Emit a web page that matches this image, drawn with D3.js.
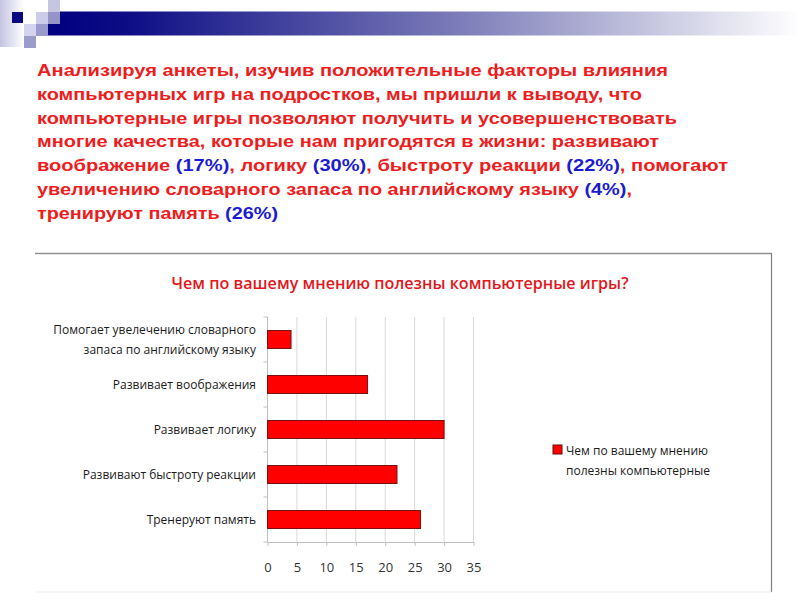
<!DOCTYPE html>
<html>
<head>
  <meta charset="UTF-8">
  <style>
    body { margin: 0; background: #fff; }
    svg { display: block; }
    .para { font: bold 16.5px "Liberation Sans", Arial, sans-serif; }
    .chart text { font-family: "Open Sans", sans-serif; }
    .grid line { stroke: #d9d9d9; stroke-width: 1px; }
    .axis line, .axis path { stroke: #bfbfbf; stroke-width: 1px; }
    .bar { fill: #ff0000; stroke: #7a1010; stroke-width: 1px; }
  </style>
</head>
<body>
  <svg width="800" height="600"></svg>
  <script src="https://d3js.org/d3.v7.min.js"></script>
  <script>
    // данные диаграммы
    const categories = [
      'Помогает увелечению словарного запаса по английскому языку',
      'Развивает воображения',
      'Развивает логику',
      'Развивают быстроту реакции',
      'Тренеруют память'
    ];
    const categoryLines = [
      ['Помогает увелечению словарного', 'запаса по английскому языку'],
      ['Развивает воображения'],
      ['Развивает логику'],
      ['Развивают быстроту реакции'],
      ['Тренеруют память']
    ];
    const values = [4, 17, 30, 22, 26];
    const xTicks = [0, 5, 10, 15, 20, 25, 30, 35];
    const chartTitle = 'Чем по вашему мнению полезны компьютерные игры?';
    const legendLines = ['Чем по вашему мнению', 'полезны компьютерные'];

    const red = '#ee1c1c', blue = '#1b1bd0';
    const pct = i => `(${values[i]}%)`;
    // текст над диаграммой: строки из кусочков [текст, цвет]
    const paraLines = [
      [['Анализируя анкеты, изучив положительные  факторы влияния', red]],
      [['компьютерных игр на подростков, мы пришли к выводу, что', red]],
      [['компьютерные игры позволяют получить и усовершенствовать', red]],
      [['многие качества, которые нам пригодятся в жизни: развивают', red]],
      [['воображение ', red], [pct(1), blue], [', логику ', red], [pct(2), blue],
       [',  быстроту реакции ', red], [pct(3), blue], [', помогают', red]],
      [['увеличению словарного запаса по английскому языку ', red], [pct(0), blue], [',', red]],
      [['тренируют память ', red], [pct(4), blue]]
    ];
    const paraRight = [668, 642, 677, 659, 728, 632, 278];

    const svg = d3.select('svg');

    // шапка слайда
    const defs = svg.append('defs');
    const grad = defs.append('linearGradient').attr('id', 'band');
    grad.append('stop').attr('offset', '0%').attr('stop-color', '#000080');
    grad.append('stop').attr('offset', '10%').attr('stop-color', '#0c0c85');
    grad.append('stop').attr('offset', '55%').attr('stop-color', '#7d7db9');
    grad.append('stop').attr('offset', '100%').attr('stop-color', '#ffffff');
    const gradL = defs.append('linearGradient').attr('id', 'side');
    gradL.append('stop').attr('offset', '0%').attr('stop-color', '#c4c4e2');
    gradL.append('stop').attr('offset', '100%').attr('stop-color', '#ffffff');

    const head = svg.append('g');
    head.append('rect').attr('x', 0).attr('y', 0).attr('width', 24).attr('height', 47).attr('fill', 'url(#side)');
    head.append('rect').attr('x', 48).attr('y', 11.5).attr('width', 752).attr('height', 24).attr('fill', 'url(#band)');
    [
      [12, 12, 11, '#0a0a80'],
      [36, 12, 12, '#ccccea'],
      [48, 0, 12, '#c6c6e2'],
      [48, 12, 12, '#9494c8'],
      [36, 24, 12, '#9a9acc'],
      [24, 24, 12, '#d4d4ee'],
      [24, 36, 12, '#9c9ccc']
    ].forEach(([x, y, s, c]) => {
      head.append('rect').attr('x', x).attr('y', y).attr('width', s).attr('height', s).attr('fill', c);
    });

    // абзац
    const para = svg.append('g').attr('class', 'para');
    paraLines.forEach((segs, i) => {
      const t = para.append('text')
        .attr('x', 37)
        .attr('y', 76 + i * 23.8)
        .attr('textLength', paraRight[i] - 37)
        .attr('lengthAdjust', 'spacingAndGlyphs');
      segs.forEach(([txt, col]) => t.append('tspan').attr('fill', col).text(txt));
    });

    // рамка диаграммы
    const chart = svg.append('g').attr('class', 'chart');
    chart.append('line').attr('x1', 35).attr('x2', 771.5).attr('y1', 253.5).attr('y2', 253.5)
      .attr('stroke', '#909090').attr('stroke-width', 1.5);
    chart.append('line').attr('x1', 771.5).attr('x2', 771.5).attr('y1', 253).attr('y2', 592)
      .attr('stroke', '#808080').attr('stroke-width', 1.2);
    chart.append('line').attr('x1', 35).attr('x2', 771.5).attr('y1', 592).attr('y2', 592)
      .attr('stroke', '#ececec');

    chart.append('text')
      .attr('x', 400).attr('y', 289)
      .attr('text-anchor', 'middle')
      .attr('fill', '#e3161b')
      .attr('font-size', 17)
      .attr('font-weight', 600)
      .attr('textLength', 457)
      .attr('lengthAdjust', 'spacingAndGlyphs')
      .text(chartTitle);

    // шкалы
    const x = d3.scaleLinear().domain([0, 35]).range([267.5, 473.5]);
    const y = d3.scaleBand().domain(categories).range([317, 542])
      .paddingInner(0.6).paddingOuter(0.3);
    const step = y.step();

    // сетка
    chart.append('g').attr('class', 'grid')
      .selectAll('line').data(xTicks.slice(1)).join('line')
      .attr('x1', d => x(d)).attr('x2', d => x(d))
      .attr('y1', 317).attr('y2', 542);

    // оси
    const xAxis = chart.append('g').attr('class', 'axis')
      .attr('transform', 'translate(0,542)')
      .call(d3.axisBottom(x).tickValues(xTicks).tickSize(4).tickSizeOuter(0));
    xAxis.select('.domain').attr('stroke', '#bfbfbf');
    xAxis.selectAll('text')
      .attr('font-size', 13).attr('fill', '#333').attr('dy', 0).attr('y', 30);

    const yAxis = chart.append('g').attr('class', 'axis');
    yAxis.append('line').attr('x1', x(0)).attr('x2', x(0)).attr('y1', 317).attr('y2', 542);
    yAxis.selectAll('.tk').data(d3.range(categories.length + 1)).join('line')
      .attr('class', 'tk')
      .attr('x1', x(0) - 4).attr('x2', x(0))
      .attr('y1', i => 317 + i * step).attr('y2', i => 317 + i * step);

    // подписи категорий
    chart.append('g').selectAll('text').data(categories).join('text')
      .attr('text-anchor', 'end')
      .attr('x', 256)
      .attr('font-size', 12)
      .attr('fill', '#1a1a1a')
      .each(function (d, i) {
        const lines = categoryLines[i];
        const cy = y(d) + y.bandwidth() / 2;
        lines.forEach((ln, j) => {
          d3.select(this).append('tspan')
            .attr('x', 256)
            .attr('y', cy + 4.5 + (j - (lines.length - 1) / 2) * 19.5)
            .text(ln);
        });
      });

    // столбики
    chart.append('g').selectAll('rect').data(values).join('rect')
      .attr('class', 'bar')
      .attr('x', x(0))
      .attr('y', (d, i) => y(categories[i]))
      .attr('width', d => x(d) - x(0))
      .attr('height', y.bandwidth());

    // легенда
    const legend = chart.append('g');
    legend.append('rect').attr('x', 553).attr('y', 445).attr('width', 9).attr('height', 9)
      .attr('fill', '#ff0000').attr('stroke', '#6a0a0a');
    legend.selectAll('text').data(legendLines).join('text')
      .attr('x', 566)
      .attr('y', (d, i) => 455 + i * 19.5)
      .attr('font-size', 12)
      .attr('fill', '#1a1a1a')
      .text(d => d);
  </script>
</body>
</html>
